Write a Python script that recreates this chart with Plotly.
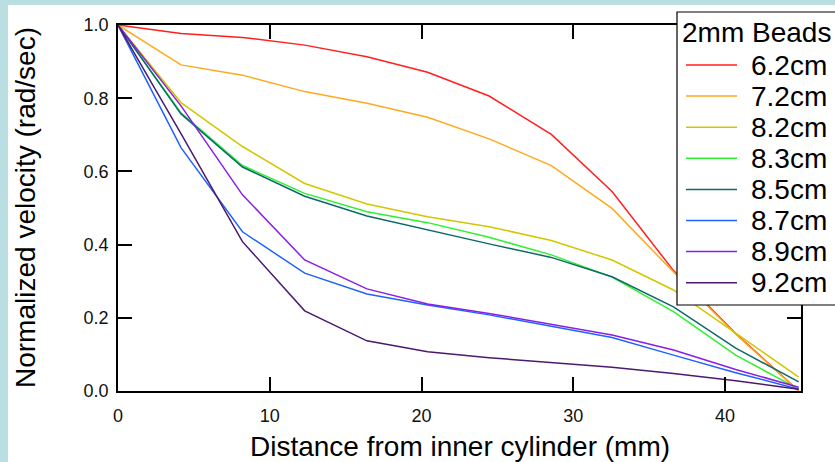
import plotly.graph_objects as go

# ---- data ----
distance_mm = [0, 4.15, 8.2, 12.3, 16.4, 20.4, 24.45, 28.55, 32.55, 36.6, 40.7, 44.85]

series_names = ["6.2cm", "7.2cm", "8.2cm", "8.3cm", "8.5cm", "8.7cm", "8.9cm", "9.2cm"]

v_62 = [1.0, 0.977, 0.966, 0.945, 0.913, 0.871, 0.806, 0.701, 0.545, 0.329, 0.157, 0.0]
v_72 = [1.0, 0.891, 0.863, 0.818, 0.786, 0.748, 0.689, 0.616, 0.499, 0.325, 0.155, 0.0]
v_82 = [1.0, 0.788, 0.668, 0.567, 0.511, 0.476, 0.449, 0.411, 0.358, 0.276, 0.158, 0.038]
v_83 = [1.0, 0.760, 0.616, 0.540, 0.490, 0.460, 0.420, 0.372, 0.311, 0.217, 0.098, 0.005]
v_85 = [1.0, 0.757, 0.612, 0.532, 0.478, 0.440, 0.402, 0.365, 0.312, 0.230, 0.117, 0.025]
v_87 = [1.0, 0.665, 0.435, 0.322, 0.265, 0.235, 0.208, 0.176, 0.146, 0.098, 0.050, 0.005]
v_89 = [1.0, 0.779, 0.536, 0.358, 0.279, 0.238, 0.212, 0.183, 0.153, 0.112, 0.059, 0.010]
v_92 = [1.0, 0.703, 0.408, 0.219, 0.137, 0.107, 0.091, 0.078, 0.065, 0.048, 0.028, 0.005]

series_values = [v_62, v_72, v_82, v_83, v_85, v_87, v_89, v_92]
series_colors = ["#ff1f1f", "#ffa91c", "#d2c600", "#2ef02e", "#0c6a6a", "#1e62ff", "#8a1ee6", "#4b1a6e"]

x_ticks = [0, 10, 20, 30, 40]
y_ticks = [0.0, 0.2, 0.4, 0.6, 0.8, 1.0]
legend_title = "2mm Beads"

# ---- layout constants (pixels) ----
W, H = 835, 462
ML, MR, MT, MB = 118, 34, 25, 71
PW, PH = W - ML - MR, H - MT - MB
FONT = "Arial, Liberation Sans, Helvetica, sans-serif"


def px(x):
    return (x - ML) / PW


def py(y):
    return (H - MB - y) / PH


fig = go.Figure()
for name, vals, col in zip(series_names, series_values, series_colors):
    fig.add_trace(go.Scatter(x=distance_mm, y=vals, mode="lines", name=name,
                             line=dict(color=col, width=1.5), showlegend=False))

shapes = []
annotations = []

# light-blue frame strips of the original page
strip = "#b9dfe2"
shapes.append(dict(type="rect", xref="paper", yref="paper", x0=px(-5), x1=px(W + 5),
                   y0=py(5), y1=py(-5), fillcolor=strip, line=dict(width=0), layer="below"))
shapes.append(dict(type="rect", xref="paper", yref="paper", x0=px(-5), x1=px(8),
                   y0=py(H + 5), y1=py(-5), fillcolor=strip, line=dict(width=0), layer="below"))

# legend box
shapes.append(dict(type="rect", xref="paper", yref="paper", x0=px(677), x1=px(845),
                   y0=py(305), y1=py(12), fillcolor="white",
                   line=dict(color="black", width=1.2), layer="above"))
annotations.append(dict(xref="paper", yref="paper", x=px(680), y=py(32), xanchor="left",
                        yanchor="middle", text=legend_title, showarrow=False,
                        font=dict(family=FONT, size=28, color="black")))
for i, (name, col) in enumerate(zip(series_names, series_colors)):
    yc = 65 + i * 31.1
    shapes.append(dict(type="line", xref="paper", yref="paper", x0=px(686), x1=px(737),
                       y0=py(yc), y1=py(yc), line=dict(color=col, width=1.5), layer="above"))
    annotations.append(dict(xref="paper", yref="paper", x=px(749), y=py(yc), xanchor="left",
                            yanchor="middle", text=name, showarrow=False,
                            font=dict(family=FONT, size=28, color="black")))

# axis titles
annotations.append(dict(xref="paper", yref="paper", x=px((ML + W - MR) / 2), y=py(446),
                        xanchor="center", yanchor="middle",
                        text="Distance from inner cylinder (mm)", showarrow=False,
                        font=dict(family=FONT, size=28, color="black")))
annotations.append(dict(xref="paper", yref="paper", x=px(25), y=py((MT + H - MB) / 2),
                        xanchor="center", yanchor="middle", textangle=-90,
                        text="Normalized velocity (rad/sec)", showarrow=False,
                        font=dict(family=FONT, size=28, color="black")))

axis_common = dict(showgrid=False, zeroline=False, showline=True, linecolor="black",
                   linewidth=1.5, mirror="ticks", ticks="inside", ticklen=14,
                   tickwidth=1.5, tickcolor="black",
                   tickfont=dict(family=FONT, size=18, color="#111111"))

fig.update_layout(
    width=W, height=H,
    margin=dict(l=ML, r=MR, t=MT, b=MB, autoexpand=False),
    paper_bgcolor="white", plot_bgcolor="white",
    showlegend=False,
    shapes=shapes, annotations=annotations,
    xaxis=dict(range=[0, 45], tickvals=x_ticks, ticktext=[str(v) for v in x_ticks],
               ticklabelstandoff=8, **axis_common),
    yaxis=dict(range=[0, 1.0], tickvals=y_ticks, ticktext=[f"{v:.1f}" for v in y_ticks],
               ticklabelstandoff=4, **axis_common),
)

fig.write_html("out.html", config={"displayModeBar": False},
               post_script="document.body.style.margin='0';document.body.style.overflow='hidden';")
